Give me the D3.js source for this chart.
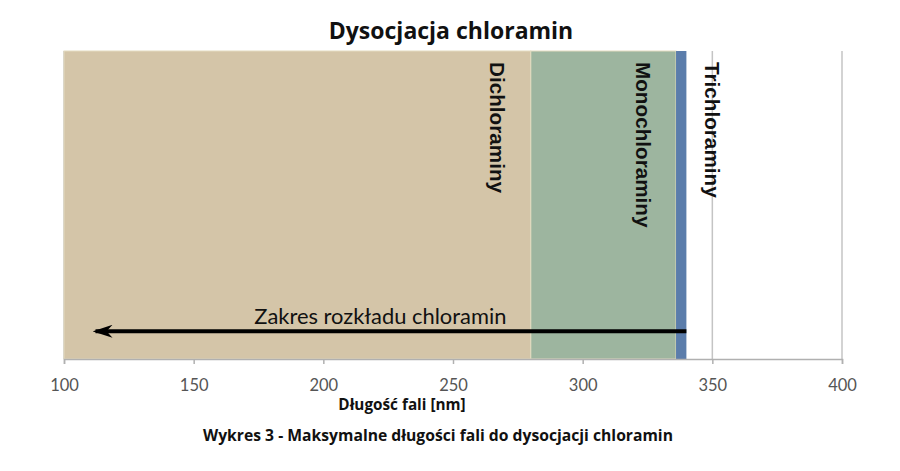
<!DOCTYPE html>
<html>
<head>
<meta charset="utf-8">
<script src="https://cdn.jsdelivr.net/npm/d3@7"></script>
<style>
  body { margin: 0; background: #fff; }
  svg { display: block; }
</style>
</head>
<body>
<div id="chart"></div>
<script>
// dane
const categories = ["Dichloraminy", "Monochloraminy", "Trichloraminy"];
const rangeStart = [100, 280, 336];
const rangeEnd = [280, 336, 340];
const labelAt = [267, 323.5, 350];
const xTicks = [100, 150, 200, 250, 300, 350, 400];
const arrowFrom = 340, arrowTo = 111, arrowLevel = 0.09;
const annotation = "Zakres rozkładu chloramin";
const title = "Dysocjacja chloramin";
const xTitle = "Długość fali [nm]";
const caption = "Wykres 3 - Maksymalne długości fali do dysocjacji chloramin";

const colors = ["#d4c5a8", "#9db59f", "#5b7dab"];

const width = 900, height = 471;
const margin = {top: 51, left: 64, right: 58, bottom: 112};

const svg = d3.select("#chart").append("svg")
  .attr("width", width)
  .attr("height", height);

const x = d3.scaleLinear().domain([100, 400]).range([margin.left, width - margin.right]);
const y = d3.scaleLinear().domain([0, 1]).range([height - margin.bottom, margin.top]);

// linie siatki
svg.append("g").selectAll("line")
  .data(xTicks)
  .enter().append("line")
  .attr("x1", d => x(d)).attr("x2", d => x(d))
  .attr("y1", y(1)).attr("y2", y(0))
  .attr("stroke", "#c4c4c4")
  .attr("stroke-width", 1.5);

// zakresy
svg.append("g").selectAll("rect")
  .data(categories)
  .enter().append("rect")
  .attr("x", (d, i) => x(rangeStart[i]))
  .attr("width", (d, i) => x(rangeEnd[i]) - x(rangeStart[i]))
  .attr("y", y(1))
  .attr("height", y(0) - y(1))
  .attr("fill", (d, i) => colors[i])
  .attr("stroke", (d, i) => i < 2 ? "#e4dcc0" : "none")
  .attr("stroke-width", 1);

// oś X
const axis = svg.append("g")
  .attr("transform", `translate(0,${y(0)})`)
  .call(d3.axisBottom(x).tickValues(xTicks).tickSize(5).tickPadding(15));
axis.select(".domain").attr("stroke", "#b0b0b0").attr("stroke-width", 1.5);
axis.selectAll(".tick line").attr("stroke", "#b0b0b0").attr("stroke-width", 1.5);
axis.selectAll(".tick text")
  .attr("fill", "#555")
  .style("font-family", "Lato, sans-serif")
  .style("font-size", "16.5px");

// etykiety pionowe
svg.append("g").selectAll("text")
  .data(categories)
  .enter().append("text")
  .attr("transform", (d, i) => `translate(${x(labelAt[i])},${y(1) + 11}) rotate(90)`)
  .attr("dominant-baseline", "central")
  .style("font-family", "'Liberation Sans', Arial, sans-serif")
  .style("font-weight", "bold")
  .style("font-size", "20.7px")
  .attr("fill", "#111")
  .text(d => d);

// strzałka
svg.append("defs").append("marker")
  .attr("id", "head")
  .attr("viewBox", "0 0 20 13")
  .attr("refX", 17).attr("refY", 6.5)
  .attr("markerUnits", "userSpaceOnUse")
  .attr("markerWidth", 20).attr("markerHeight", 13)
  .attr("orient", "auto")
  .append("path")
  .attr("d", "M20,6.5 L0,0 L6,6.5 L0,13 Z")
  .attr("fill", "#000");

svg.append("line")
  .attr("x1", x(arrowFrom)).attr("x2", x(arrowTo) + 3)
  .attr("y1", y(arrowLevel)).attr("y2", y(arrowLevel))
  .attr("stroke", "#000")
  .attr("stroke-width", 4)
  .attr("marker-end", "url(#head)");

svg.append("text")
  .attr("x", x(222)).attr("y", y(arrowLevel) - 7)
  .attr("text-anchor", "middle")
  .style("font-family", "Lato, sans-serif")
  .style("font-size", "21.9px")
  .attr("fill", "#111")
  .text(annotation);

// tytuły
svg.append("text")
  .attr("x", 451).attr("y", 39)
  .attr("text-anchor", "middle")
  .style("font-family", "'Open Sans', sans-serif")
  .style("font-weight", "bold")
  .style("font-size", "23px")
  .attr("fill", "#111")
  .text(title);

svg.append("text")
  .attr("x", 402).attr("y", 410)
  .attr("text-anchor", "middle")
  .style("font-family", "'Open Sans', sans-serif")
  .style("font-weight", "bold")
  .style("font-size", "15.3px")
  .attr("fill", "#111")
  .text(xTitle);

svg.append("text")
  .attr("x", 438).attr("y", 441)
  .attr("text-anchor", "middle")
  .style("font-family", "'Open Sans', sans-serif")
  .style("font-weight", "bold")
  .style("font-size", "15.7px")
  .attr("fill", "#111")
  .text(caption);
</script>
</body>
</html>
